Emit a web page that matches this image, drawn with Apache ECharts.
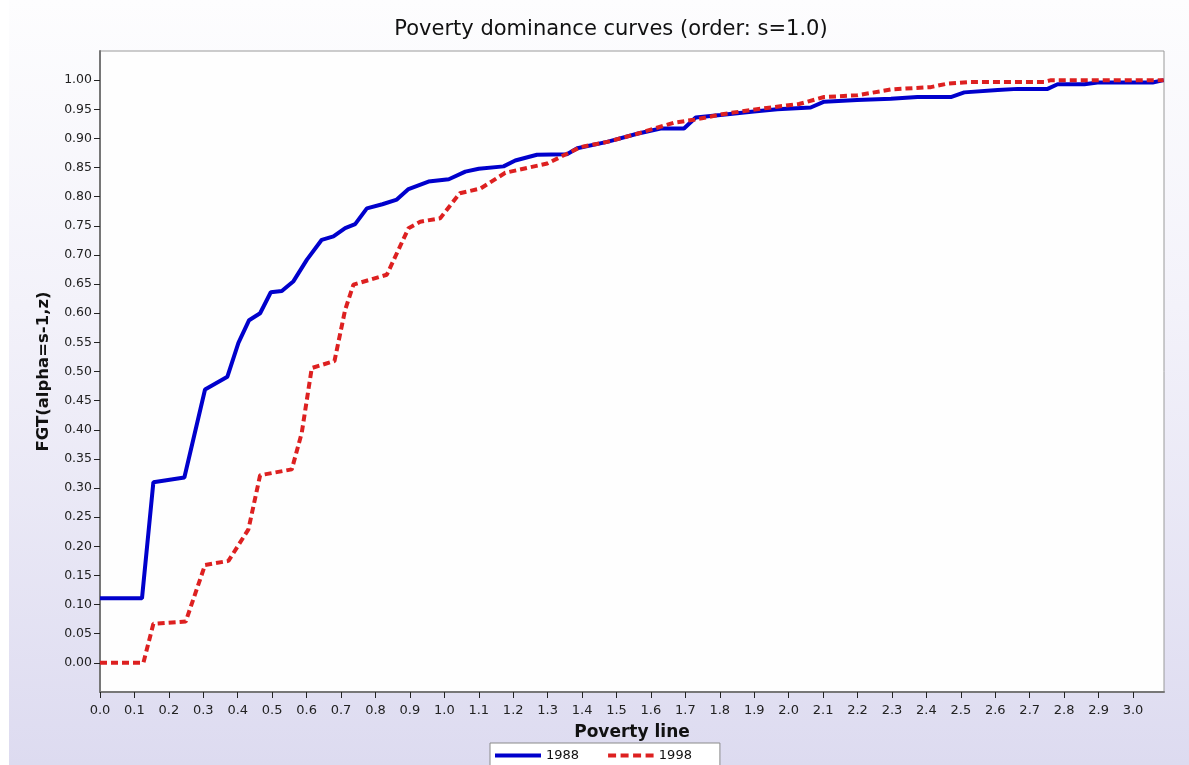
<!DOCTYPE html>
<html>
<head>
<meta charset="utf-8">
<script src="https://cdn.jsdelivr.net/npm/echarts@6/dist/echarts.min.js"></script>
<style>
html,body{margin:0;padding:0;background:#ffffff;}
#bg{position:absolute;left:9px;top:0;width:1180px;height:765px;background:linear-gradient(to bottom,#fdfdfe 0%,#f3f2fa 40%,#dddbf0 100%);}
#chart{position:absolute;left:0;top:0;width:1189px;height:765px;}
</style>
</head>
<body>
<div id="bg"></div>
<div id="chart"></div>
<script>
// ---- data ----
const titleText = 'Poverty dominance curves (order: s=1.0)';
const xAxisName = 'Poverty line';
const yAxisName = 'FGT(alpha=s-1,z)';
const seriesNames = ['1988', '1998'];

const xTickLabels = ['0.0','0.1','0.2','0.3','0.4','0.5','0.6','0.7','0.8','0.9','1.0','1.1','1.2','1.3','1.4','1.5','1.6','1.7','1.8','1.9','2.0','2.1','2.2','2.3','2.4','2.5','2.6','2.7','2.8','2.9','3.0'];
const yTickLabels = ['0.00','0.05','0.10','0.15','0.20','0.25','0.30','0.35','0.40','0.45','0.50','0.55','0.60','0.65','0.70','0.75','0.80','0.85','0.90','0.95','1.00'];

const x1988 = [0, 0.122, 0.155, 0.245, 0.305, 0.370, 0.402, 0.433, 0.465, 0.496, 0.528, 0.562, 0.601, 0.644, 0.678, 0.712, 0.741, 0.775, 0.820, 0.862, 0.896, 0.954, 1.013, 1.061, 1.100, 1.172, 1.206, 1.269, 1.356, 1.386, 1.473, 1.560, 1.628, 1.696, 1.730, 1.802, 1.899, 1.967, 2.064, 2.103, 2.199, 2.297, 2.374, 2.471, 2.510, 2.607, 2.665, 2.752, 2.781, 2.859, 2.897, 3.057, 3.089];
const y1988 = [0.111, 0.111, 0.310, 0.318, 0.469, 0.491, 0.549, 0.588, 0.600, 0.636, 0.638, 0.655, 0.692, 0.726, 0.732, 0.746, 0.753, 0.780, 0.787, 0.795, 0.813, 0.826, 0.830, 0.843, 0.848, 0.852, 0.862, 0.872, 0.873, 0.883, 0.894, 0.908, 0.917, 0.917, 0.936, 0.940, 0.946, 0.950, 0.953, 0.963, 0.966, 0.968, 0.971, 0.971, 0.979, 0.983, 0.985, 0.985, 0.993, 0.993, 0.996, 0.996, 1.000];

const x1998 = [0, 0.126, 0.155, 0.249, 0.305, 0.373, 0.431, 0.465, 0.557, 0.586, 0.615, 0.681, 0.712, 0.736, 0.833, 0.896, 0.930, 0.988, 1.045, 1.105, 1.177, 1.299, 1.395, 1.473, 1.560, 1.667, 1.725, 1.812, 1.919, 2.030, 2.103, 2.199, 2.297, 2.413, 2.461, 2.529, 2.742, 2.762, 3.089];
const y1998 = [0, 0, 0.067, 0.071, 0.168, 0.175, 0.229, 0.322, 0.332, 0.395, 0.506, 0.518, 0.606, 0.649, 0.666, 0.746, 0.757, 0.763, 0.806, 0.814, 0.841, 0.857, 0.885, 0.894, 0.908, 0.927, 0.932, 0.942, 0.951, 0.959, 0.971, 0.974, 0.984, 0.988, 0.994, 0.997, 0.997, 1.000, 1.000];

// ---- build options ----
const pairs = (xs, ys) => xs.map((x, i) => [x, ys[i]]);
const xTickVals = xTickLabels.map(Number);
const yTickVals = yTickLabels.map(Number);
const FONT = 'DejaVu Sans';
const BLUE = '#0000cc';
const RED = '#dd2020';
const dashIcon = 'path://M0,0h8v4h-8z M12.5,0h8v4h-8z M25,0h8v4h-8z M37.5,0h8v4h-8z';

const chart = echarts.init(document.getElementById('chart'), null, {renderer: 'canvas'});
chart.setOption({
  backgroundColor: 'transparent',
  animation: false,
  title: {
    text: titleText,
    left: 606, top: 14, textAlign: 'center',
    textStyle: {fontFamily: FONT, fontSize: 21, fontWeight: 'normal', color: '#111'}
  },
  grid: {left: 100, top: 51, right: 25, bottom: 73, show: true, backgroundColor: '#fefefe', borderColor: '#9a9a9a', borderWidth: 1},
  legend: {
    left: 490, top: 743,
    data: [{name: seriesNames[0], icon: 'rect'}, {name: seriesNames[1], icon: dashIcon}],
    backgroundColor: '#ffffff', borderColor: '#8a8a8a', borderWidth: 1,
    padding: [6, 28, 8, 5], itemGap: 29, itemWidth: 46, itemHeight: 4,
    textStyle: {fontFamily: FONT, fontSize: 13, color: '#111'}
  },
  xAxis: {
    type: 'value', min: 0, max: 3.09,
    name: xAxisName, nameLocation: 'middle', nameGap: 32,
    nameTextStyle: {fontFamily: FONT, fontSize: 17, fontWeight: 'bold', color: '#111'},
    axisLine: {show: true, onZero: false, lineStyle: {color: '#777', width: 2}},
    axisTick: {show: true, length: 6, lineStyle: {color: '#222', width: 1}, customValues: xTickVals},
    axisLabel: {customValues: xTickVals, formatter: v => v.toFixed(1), margin: 12, fontFamily: FONT, fontSize: 13, color: '#222'},
    splitLine: {show: false}
  },
  yAxis: {
    type: 'value', min: -0.05, max: 1.05, interval: 0.05,
    name: yAxisName, nameLocation: 'middle', nameGap: 48, nameRotate: 90,
    nameTextStyle: {fontFamily: FONT, fontSize: 16.5, fontWeight: 'bold', color: '#111'},
    axisLine: {show: true, onZero: false, lineStyle: {color: '#777', width: 2}},
    axisTick: {show: true, length: 6, lineStyle: {color: '#222', width: 1}, customValues: yTickVals},
    axisLabel: {customValues: yTickVals, formatter: v => v.toFixed(2), margin: 8, fontFamily: FONT, fontSize: 12.5, color: '#222'},
    splitLine: {show: false}
  },
  series: [
    {
      name: seriesNames[0], type: 'line', data: pairs(x1988, y1988),
      symbol: 'none', smooth: false,
      lineStyle: {color: BLUE, width: 4},
      itemStyle: {color: BLUE}
    },
    {
      name: seriesNames[1], type: 'line', data: pairs(x1998, y1998),
      symbol: 'none', smooth: false,
      lineStyle: {color: RED, width: 4, type: [7, 4]},
      itemStyle: {color: RED}
    }
  ]
});
</script>
</body>
</html>
